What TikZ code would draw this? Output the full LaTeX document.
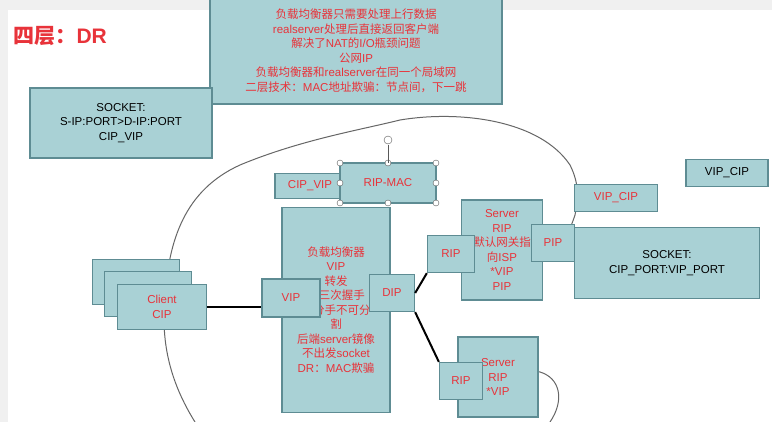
\documentclass[tikz,border=0pt]{standalone}
\usepackage{fontspec}
\setmainfont{Liberation Sans}
\newfontfamily\cjkfont{Noto Sans CJK SC}
\usetikzlibrary{positioning}
\definecolor{boxfill}{HTML}{A9D1D5}
\definecolor{boxline}{HTML}{5E8C93}
\definecolor{redtxt}{HTML}{E8333A}
\tikzset{
  box/.style={draw=boxline, fill=boxfill, line width=1.3pt, inner sep=1pt, align=center, font=\fontsize{11.5}{14.5}\selectfont},
  redbox/.style={box, text=redtxt},
  handle/.style={circle, draw=gray!70!black, fill=white, inner sep=0pt, minimum size=6pt},
  link/.style={line width=2pt, black}
}
\newcommand{\zh}[1]{{\cjkfont #1}}
\begin{document}
\begin{tikzpicture}[x=1pt,y=-1pt]
	\fill[gray!12] (0,0) rectangle (772,422);
	\fill[white] (8,10) rectangle (772,422);
	\useasboundingbox (0,0) rectangle (772,422);
	
	% cloud
	\draw[gray!80!black, line width=1pt] (195,422) .. controls (175,390) and (160,350) .. (165,300)
		.. controls (168,240) and (185,190) .. (240,165)
		.. controls (300,140) and (360,130) .. (400,120)
		.. controls (460,110) and (540,120) .. (570,165)
		.. controls (580,185) and (578,200) .. (575,215)
		.. controls (570,230) and (565,240) .. (560,250);
	\draw[gray!80!black, line width=1pt] (520,365) .. controls (530,372) and (535,372) .. (540,372)
		.. controls (560,378) and (565,400) .. (550,422);
	
	\node[text=redtxt, font=\fontsize{21}{24}\selectfont\bfseries, anchor=west] (title) at (10,36) {\zh{四层：}DR};
	
	\node[redbox, minimum width=292pt, minimum height=106pt] (note) at (356,51) {\zh{负载均衡器只需要处理上行数据}\\realserver\zh{处理后直接返回客户端}\\\zh{解决了}NAT\zh{的}I/O\zh{瓶颈问题}\\\zh{公网}IP\\\zh{负载均衡器和}realserver\zh{在同一个局域网}\\\zh{二层技术：}MAC\zh{地址欺骗：节点间，下一跳}};
	\node[box, minimum width=182pt, minimum height=70pt] (sock) at (121,123) {SOCKET:\\S-IP:PORT>D-IP:PORT\\CIP\_VIP};
	
	\node[redbox, minimum width=70pt, minimum height=25pt] (cipvip) at (310,186) {CIP\_VIP};
	\node[redbox, minimum width=96pt, minimum height=40pt] (ripmac) at (388,183) {RIP-MAC};
	\foreach \hx/\hy in {340/163,388/163,436/163,340/183,436/183,340/203,388/203,436/203}
		\node[handle] at (\hx,\hy) {};
	\draw[gray!70!black] (388,163) -- (388,145);
	\node[circle, draw=gray!70!black, inner sep=0pt, minimum size=8pt] (rot) at (388,140) {};
	
	\node[redbox, minimum width=83pt, minimum height=27pt] (vipcip) at (616,198) {VIP\_CIP};
	\node[box, minimum width=82pt, minimum height=27pt] (vipcip2) at (727,173) {VIP\_CIP};
	
	\node[redbox, minimum width=108pt, minimum height=205pt] (lb) at (336,310) {\zh{负载均衡器}\\VIP\\\zh{转发}\\\zh{证三次握手}\\\zh{次分手不可分}\\\zh{割}\\\zh{后端}server\zh{镜像}\\\zh{不出发}socket\\DR\zh{：}MAC\zh{欺骗}};
	\node[redbox, minimum width=58pt, minimum height=38pt] (vip) at (291,298) {VIP};
	\node[redbox, minimum width=45pt, minimum height=37pt] (dip) at (392,293) {DIP};
	
	\node[redbox, minimum width=81pt, minimum height=100pt] (srv1) at (502,250) {Server\\RIP\\\zh{默认网关指}\\\zh{向}ISP\\*VIP\\PIP};
	\node[redbox, minimum width=47pt, minimum height=37pt] (rip1) at (451,254) {RIP};
	\node[redbox, minimum width=43pt, minimum height=37pt] (pip) at (553,243) {PIP};
	\node[box, minimum width=185pt, minimum height=71pt] (sock2) at (667,263) {SOCKET:\\CIP\_PORT:VIP\_PORT};
	
	\node[redbox, minimum width=80pt, minimum height=80pt] (srv2) at (498,377) {Server\\RIP\\*VIP};
	\node[redbox, minimum width=43pt, minimum height=37pt] (rip2) at (461,381) {RIP};
	
	\node[box, minimum width=87pt, minimum height=45pt] (cl1) at (136,282) {};
	\node[box, minimum width=87pt, minimum height=45pt] (cl2) at (148,294) {};
	\node[redbox, minimum width=89pt, minimum height=45pt] (client) at (162,307) {Client\\CIP};
	
	\draw[link] (client.east) -- (vip.west |- client.east);
	\draw[link] (dip.east) -- (rip1.south west);
	\draw[link] (dip.south east) -- (rip2.north west);
\end{tikzpicture}
\end{document}
